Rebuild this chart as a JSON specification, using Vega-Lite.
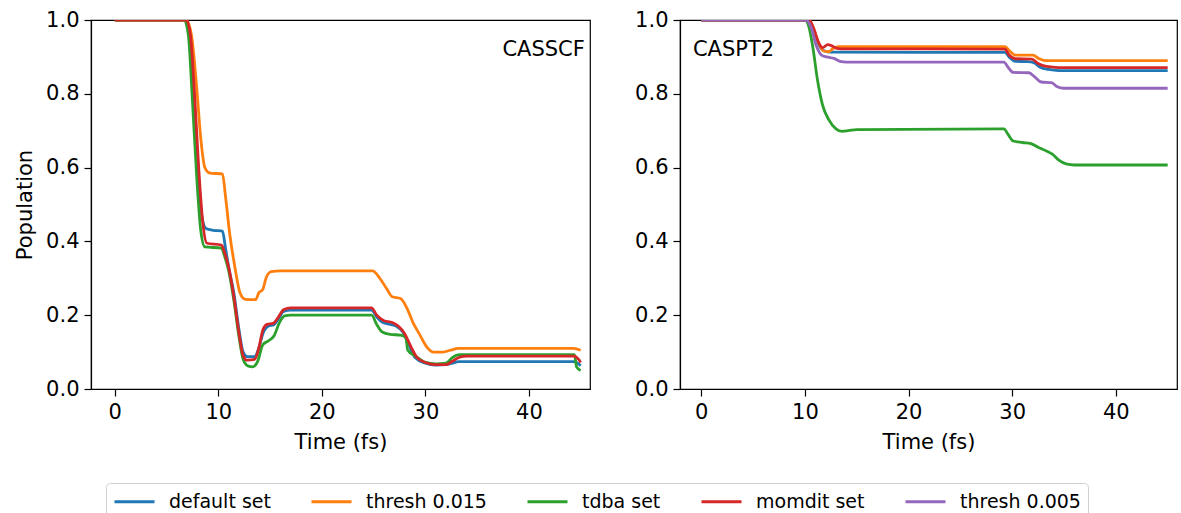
{
  "$schema": "https://vega.github.io/schema/vega-lite/v6.json",
  "padding": {"left": 14, "top": 8, "right": 0, "bottom": 0},
  "background": "white",
  "datasets": {
    "pop": [
      {"m": "CASSCF", "s": "default set", "t": 0, "p": 1.0},
      {"m": "CASSCF", "s": "default set", "t": 6.8, "p": 1.0},
      {"m": "CASSCF", "s": "default set", "t": 7.2, "p": 0.97},
      {"m": "CASSCF", "s": "default set", "t": 7.6, "p": 0.82},
      {"m": "CASSCF", "s": "default set", "t": 8.0, "p": 0.62},
      {"m": "CASSCF", "s": "default set", "t": 8.4, "p": 0.47},
      {"m": "CASSCF", "s": "default set", "t": 8.8, "p": 0.435},
      {"m": "CASSCF", "s": "default set", "t": 9.5, "p": 0.43},
      {"m": "CASSCF", "s": "default set", "t": 10.4, "p": 0.428},
      {"m": "CASSCF", "s": "default set", "t": 10.7, "p": 0.38},
      {"m": "CASSCF", "s": "default set", "t": 11.0, "p": 0.33},
      {"m": "CASSCF", "s": "default set", "t": 11.5, "p": 0.26},
      {"m": "CASSCF", "s": "default set", "t": 12.0, "p": 0.16},
      {"m": "CASSCF", "s": "default set", "t": 12.4, "p": 0.1},
      {"m": "CASSCF", "s": "default set", "t": 12.8, "p": 0.088},
      {"m": "CASSCF", "s": "default set", "t": 13.5, "p": 0.088},
      {"m": "CASSCF", "s": "default set", "t": 13.9, "p": 0.11},
      {"m": "CASSCF", "s": "default set", "t": 14.3, "p": 0.15},
      {"m": "CASSCF", "s": "default set", "t": 14.8, "p": 0.17},
      {"m": "CASSCF", "s": "default set", "t": 15.4, "p": 0.175},
      {"m": "CASSCF", "s": "default set", "t": 15.8, "p": 0.19},
      {"m": "CASSCF", "s": "default set", "t": 16.3, "p": 0.21},
      {"m": "CASSCF", "s": "default set", "t": 17.0, "p": 0.214},
      {"m": "CASSCF", "s": "default set", "t": 24.8, "p": 0.214},
      {"m": "CASSCF", "s": "default set", "t": 25.3, "p": 0.195},
      {"m": "CASSCF", "s": "default set", "t": 25.9, "p": 0.18},
      {"m": "CASSCF", "s": "default set", "t": 26.6, "p": 0.175},
      {"m": "CASSCF", "s": "default set", "t": 27.2, "p": 0.17},
      {"m": "CASSCF", "s": "default set", "t": 27.8, "p": 0.155},
      {"m": "CASSCF", "s": "default set", "t": 28.4, "p": 0.12},
      {"m": "CASSCF", "s": "default set", "t": 29.0, "p": 0.085},
      {"m": "CASSCF", "s": "default set", "t": 30.0, "p": 0.07},
      {"m": "CASSCF", "s": "default set", "t": 31.0, "p": 0.065},
      {"m": "CASSCF", "s": "default set", "t": 32.0, "p": 0.066},
      {"m": "CASSCF", "s": "default set", "t": 32.6, "p": 0.07},
      {"m": "CASSCF", "s": "default set", "t": 33.2, "p": 0.074},
      {"m": "CASSCF", "s": "default set", "t": 44.4, "p": 0.074},
      {"m": "CASSCF", "s": "default set", "t": 44.7, "p": 0.07},
      {"m": "CASSCF", "s": "default set", "t": 45.0, "p": 0.063},

      {"m": "CASSCF", "s": "thresh 0.015", "t": 0, "p": 1.0},
      {"m": "CASSCF", "s": "thresh 0.015", "t": 6.9, "p": 1.0},
      {"m": "CASSCF", "s": "thresh 0.015", "t": 7.4, "p": 0.96},
      {"m": "CASSCF", "s": "thresh 0.015", "t": 7.9, "p": 0.82},
      {"m": "CASSCF", "s": "thresh 0.015", "t": 8.3, "p": 0.68},
      {"m": "CASSCF", "s": "thresh 0.015", "t": 8.7, "p": 0.6},
      {"m": "CASSCF", "s": "thresh 0.015", "t": 9.2, "p": 0.585},
      {"m": "CASSCF", "s": "thresh 0.015", "t": 10.4, "p": 0.583},
      {"m": "CASSCF", "s": "thresh 0.015", "t": 10.7, "p": 0.52},
      {"m": "CASSCF", "s": "thresh 0.015", "t": 11.1, "p": 0.42},
      {"m": "CASSCF", "s": "thresh 0.015", "t": 11.6, "p": 0.33},
      {"m": "CASSCF", "s": "thresh 0.015", "t": 12.1, "p": 0.26},
      {"m": "CASSCF", "s": "thresh 0.015", "t": 12.6, "p": 0.243},
      {"m": "CASSCF", "s": "thresh 0.015", "t": 13.6, "p": 0.242},
      {"m": "CASSCF", "s": "thresh 0.015", "t": 13.9, "p": 0.26},
      {"m": "CASSCF", "s": "thresh 0.015", "t": 14.3, "p": 0.27},
      {"m": "CASSCF", "s": "thresh 0.015", "t": 14.6, "p": 0.3},
      {"m": "CASSCF", "s": "thresh 0.015", "t": 15.1, "p": 0.318},
      {"m": "CASSCF", "s": "thresh 0.015", "t": 16.0, "p": 0.32},
      {"m": "CASSCF", "s": "thresh 0.015", "t": 24.9, "p": 0.32},
      {"m": "CASSCF", "s": "thresh 0.015", "t": 25.6, "p": 0.3},
      {"m": "CASSCF", "s": "thresh 0.015", "t": 26.3, "p": 0.27},
      {"m": "CASSCF", "s": "thresh 0.015", "t": 26.8, "p": 0.25},
      {"m": "CASSCF", "s": "thresh 0.015", "t": 27.6, "p": 0.245},
      {"m": "CASSCF", "s": "thresh 0.015", "t": 28.2, "p": 0.22},
      {"m": "CASSCF", "s": "thresh 0.015", "t": 28.8, "p": 0.18},
      {"m": "CASSCF", "s": "thresh 0.015", "t": 29.4, "p": 0.15},
      {"m": "CASSCF", "s": "thresh 0.015", "t": 30.1, "p": 0.115},
      {"m": "CASSCF", "s": "thresh 0.015", "t": 30.8, "p": 0.1},
      {"m": "CASSCF", "s": "thresh 0.015", "t": 31.7, "p": 0.1},
      {"m": "CASSCF", "s": "thresh 0.015", "t": 32.4, "p": 0.105},
      {"m": "CASSCF", "s": "thresh 0.015", "t": 33.2, "p": 0.11},
      {"m": "CASSCF", "s": "thresh 0.015", "t": 44.3, "p": 0.11},
      {"m": "CASSCF", "s": "thresh 0.015", "t": 45.0, "p": 0.105},

      {"m": "CASSCF", "s": "tdba set", "t": 0, "p": 1.0},
      {"m": "CASSCF", "s": "tdba set", "t": 6.7, "p": 1.0},
      {"m": "CASSCF", "s": "tdba set", "t": 7.1, "p": 0.96},
      {"m": "CASSCF", "s": "tdba set", "t": 7.5, "p": 0.78},
      {"m": "CASSCF", "s": "tdba set", "t": 7.9, "p": 0.58},
      {"m": "CASSCF", "s": "tdba set", "t": 8.3, "p": 0.43},
      {"m": "CASSCF", "s": "tdba set", "t": 8.7, "p": 0.385},
      {"m": "CASSCF", "s": "tdba set", "t": 10.3, "p": 0.382},
      {"m": "CASSCF", "s": "tdba set", "t": 10.6, "p": 0.36},
      {"m": "CASSCF", "s": "tdba set", "t": 11.0, "p": 0.32},
      {"m": "CASSCF", "s": "tdba set", "t": 11.5, "p": 0.24},
      {"m": "CASSCF", "s": "tdba set", "t": 12.0, "p": 0.14},
      {"m": "CASSCF", "s": "tdba set", "t": 12.4, "p": 0.08},
      {"m": "CASSCF", "s": "tdba set", "t": 12.9, "p": 0.062},
      {"m": "CASSCF", "s": "tdba set", "t": 13.3, "p": 0.06},
      {"m": "CASSCF", "s": "tdba set", "t": 13.8, "p": 0.075},
      {"m": "CASSCF", "s": "tdba set", "t": 14.3, "p": 0.12},
      {"m": "CASSCF", "s": "tdba set", "t": 14.8, "p": 0.13},
      {"m": "CASSCF", "s": "tdba set", "t": 15.4, "p": 0.145},
      {"m": "CASSCF", "s": "tdba set", "t": 15.9, "p": 0.18},
      {"m": "CASSCF", "s": "tdba set", "t": 16.4, "p": 0.198},
      {"m": "CASSCF", "s": "tdba set", "t": 17.0, "p": 0.2},
      {"m": "CASSCF", "s": "tdba set", "t": 24.8, "p": 0.2},
      {"m": "CASSCF", "s": "tdba set", "t": 25.3, "p": 0.175},
      {"m": "CASSCF", "s": "tdba set", "t": 25.8, "p": 0.155},
      {"m": "CASSCF", "s": "tdba set", "t": 26.6, "p": 0.148},
      {"m": "CASSCF", "s": "tdba set", "t": 27.6, "p": 0.146},
      {"m": "CASSCF", "s": "tdba set", "t": 28.1, "p": 0.14},
      {"m": "CASSCF", "s": "tdba set", "t": 28.3, "p": 0.105},
      {"m": "CASSCF", "s": "tdba set", "t": 29.0, "p": 0.09},
      {"m": "CASSCF", "s": "tdba set", "t": 30.0, "p": 0.072},
      {"m": "CASSCF", "s": "tdba set", "t": 31.0, "p": 0.068},
      {"m": "CASSCF", "s": "tdba set", "t": 32.0, "p": 0.07},
      {"m": "CASSCF", "s": "tdba set", "t": 32.6, "p": 0.085},
      {"m": "CASSCF", "s": "tdba set", "t": 33.3, "p": 0.093},
      {"m": "CASSCF", "s": "tdba set", "t": 44.4, "p": 0.093},
      {"m": "CASSCF", "s": "tdba set", "t": 44.6, "p": 0.06},
      {"m": "CASSCF", "s": "tdba set", "t": 45.0, "p": 0.05},

      {"m": "CASSCF", "s": "momdit set", "t": 0, "p": 1.0},
      {"m": "CASSCF", "s": "momdit set", "t": 6.9, "p": 1.0},
      {"m": "CASSCF", "s": "momdit set", "t": 7.3, "p": 0.96},
      {"m": "CASSCF", "s": "momdit set", "t": 7.7, "p": 0.8},
      {"m": "CASSCF", "s": "momdit set", "t": 8.1, "p": 0.6},
      {"m": "CASSCF", "s": "momdit set", "t": 8.5, "p": 0.45},
      {"m": "CASSCF", "s": "momdit set", "t": 8.9, "p": 0.395},
      {"m": "CASSCF", "s": "momdit set", "t": 10.3, "p": 0.39},
      {"m": "CASSCF", "s": "momdit set", "t": 10.6, "p": 0.37},
      {"m": "CASSCF", "s": "momdit set", "t": 11.0, "p": 0.33},
      {"m": "CASSCF", "s": "momdit set", "t": 11.5, "p": 0.25},
      {"m": "CASSCF", "s": "momdit set", "t": 12.0, "p": 0.15},
      {"m": "CASSCF", "s": "momdit set", "t": 12.4, "p": 0.09},
      {"m": "CASSCF", "s": "momdit set", "t": 12.8, "p": 0.078},
      {"m": "CASSCF", "s": "momdit set", "t": 13.5, "p": 0.08},
      {"m": "CASSCF", "s": "momdit set", "t": 13.9, "p": 0.11},
      {"m": "CASSCF", "s": "momdit set", "t": 14.3, "p": 0.16},
      {"m": "CASSCF", "s": "momdit set", "t": 14.7, "p": 0.175},
      {"m": "CASSCF", "s": "momdit set", "t": 15.3, "p": 0.178},
      {"m": "CASSCF", "s": "momdit set", "t": 15.8, "p": 0.195},
      {"m": "CASSCF", "s": "momdit set", "t": 16.3, "p": 0.215},
      {"m": "CASSCF", "s": "momdit set", "t": 17.0, "p": 0.22},
      {"m": "CASSCF", "s": "momdit set", "t": 24.8, "p": 0.22},
      {"m": "CASSCF", "s": "momdit set", "t": 25.3, "p": 0.2},
      {"m": "CASSCF", "s": "momdit set", "t": 26.0, "p": 0.185},
      {"m": "CASSCF", "s": "momdit set", "t": 26.8, "p": 0.18},
      {"m": "CASSCF", "s": "momdit set", "t": 27.4, "p": 0.17},
      {"m": "CASSCF", "s": "momdit set", "t": 28.0, "p": 0.15},
      {"m": "CASSCF", "s": "momdit set", "t": 28.6, "p": 0.115},
      {"m": "CASSCF", "s": "momdit set", "t": 29.2, "p": 0.085},
      {"m": "CASSCF", "s": "momdit set", "t": 30.0, "p": 0.072},
      {"m": "CASSCF", "s": "momdit set", "t": 31.0, "p": 0.066},
      {"m": "CASSCF", "s": "momdit set", "t": 32.0, "p": 0.066},
      {"m": "CASSCF", "s": "momdit set", "t": 32.6, "p": 0.075},
      {"m": "CASSCF", "s": "momdit set", "t": 33.3, "p": 0.086},
      {"m": "CASSCF", "s": "momdit set", "t": 34.0, "p": 0.089},
      {"m": "CASSCF", "s": "momdit set", "t": 44.4, "p": 0.089},
      {"m": "CASSCF", "s": "momdit set", "t": 44.8, "p": 0.08},
      {"m": "CASSCF", "s": "momdit set", "t": 45.0, "p": 0.072},

      {"m": "CASPT2", "s": "default set", "t": 0, "p": 1.0},
      {"m": "CASPT2", "s": "default set", "t": 10.2, "p": 1.0},
      {"m": "CASPT2", "s": "default set", "t": 10.6, "p": 0.99},
      {"m": "CASPT2", "s": "default set", "t": 11.0, "p": 0.96},
      {"m": "CASPT2", "s": "default set", "t": 11.4, "p": 0.93},
      {"m": "CASPT2", "s": "default set", "t": 11.9, "p": 0.916},
      {"m": "CASPT2", "s": "default set", "t": 12.5, "p": 0.913},
      {"m": "CASPT2", "s": "default set", "t": 29.3, "p": 0.912},
      {"m": "CASPT2", "s": "default set", "t": 29.7, "p": 0.9},
      {"m": "CASPT2", "s": "default set", "t": 30.3, "p": 0.888},
      {"m": "CASPT2", "s": "default set", "t": 31.5, "p": 0.887},
      {"m": "CASPT2", "s": "default set", "t": 32.1, "p": 0.884},
      {"m": "CASPT2", "s": "default set", "t": 32.7, "p": 0.872},
      {"m": "CASPT2", "s": "default set", "t": 33.5, "p": 0.866},
      {"m": "CASPT2", "s": "default set", "t": 34.5, "p": 0.863},
      {"m": "CASPT2", "s": "default set", "t": 45.0, "p": 0.863},

      {"m": "CASPT2", "s": "thresh 0.015", "t": 0, "p": 1.0},
      {"m": "CASPT2", "s": "thresh 0.015", "t": 10.4, "p": 1.0},
      {"m": "CASPT2", "s": "thresh 0.015", "t": 10.8, "p": 0.98},
      {"m": "CASPT2", "s": "thresh 0.015", "t": 11.3, "p": 0.94},
      {"m": "CASPT2", "s": "thresh 0.015", "t": 11.8, "p": 0.916},
      {"m": "CASPT2", "s": "thresh 0.015", "t": 12.3, "p": 0.914},
      {"m": "CASPT2", "s": "thresh 0.015", "t": 12.7, "p": 0.922},
      {"m": "CASPT2", "s": "thresh 0.015", "t": 13.2, "p": 0.928},
      {"m": "CASPT2", "s": "thresh 0.015", "t": 29.3, "p": 0.928},
      {"m": "CASPT2", "s": "thresh 0.015", "t": 29.8, "p": 0.915},
      {"m": "CASPT2", "s": "thresh 0.015", "t": 30.3, "p": 0.905},
      {"m": "CASPT2", "s": "thresh 0.015", "t": 32.0, "p": 0.905},
      {"m": "CASPT2", "s": "thresh 0.015", "t": 32.6, "p": 0.895},
      {"m": "CASPT2", "s": "thresh 0.015", "t": 33.2, "p": 0.89},
      {"m": "CASPT2", "s": "thresh 0.015", "t": 45.0, "p": 0.89},

      {"m": "CASPT2", "s": "tdba set", "t": 0, "p": 1.0},
      {"m": "CASPT2", "s": "tdba set", "t": 10.0, "p": 1.0},
      {"m": "CASPT2", "s": "tdba set", "t": 10.4, "p": 0.98},
      {"m": "CASPT2", "s": "tdba set", "t": 10.8, "p": 0.92},
      {"m": "CASPT2", "s": "tdba set", "t": 11.2, "p": 0.84},
      {"m": "CASPT2", "s": "tdba set", "t": 11.7, "p": 0.77},
      {"m": "CASPT2", "s": "tdba set", "t": 12.3, "p": 0.73},
      {"m": "CASPT2", "s": "tdba set", "t": 13.0, "p": 0.705},
      {"m": "CASPT2", "s": "tdba set", "t": 13.6, "p": 0.698},
      {"m": "CASPT2", "s": "tdba set", "t": 14.2, "p": 0.7},
      {"m": "CASPT2", "s": "tdba set", "t": 15.0, "p": 0.703},
      {"m": "CASPT2", "s": "tdba set", "t": 29.2, "p": 0.705},
      {"m": "CASPT2", "s": "tdba set", "t": 29.6, "p": 0.69},
      {"m": "CASPT2", "s": "tdba set", "t": 30.1, "p": 0.672},
      {"m": "CASPT2", "s": "tdba set", "t": 31.0, "p": 0.668},
      {"m": "CASPT2", "s": "tdba set", "t": 31.8, "p": 0.665},
      {"m": "CASPT2", "s": "tdba set", "t": 32.5, "p": 0.655},
      {"m": "CASPT2", "s": "tdba set", "t": 33.3, "p": 0.645},
      {"m": "CASPT2", "s": "tdba set", "t": 33.9, "p": 0.636},
      {"m": "CASPT2", "s": "tdba set", "t": 34.5, "p": 0.62},
      {"m": "CASPT2", "s": "tdba set", "t": 35.2, "p": 0.61},
      {"m": "CASPT2", "s": "tdba set", "t": 36.0, "p": 0.607},
      {"m": "CASPT2", "s": "tdba set", "t": 45.0, "p": 0.607},

      {"m": "CASPT2", "s": "momdit set", "t": 0, "p": 1.0},
      {"m": "CASPT2", "s": "momdit set", "t": 10.4, "p": 1.0},
      {"m": "CASPT2", "s": "momdit set", "t": 10.8, "p": 0.98},
      {"m": "CASPT2", "s": "momdit set", "t": 11.3, "p": 0.94},
      {"m": "CASPT2", "s": "momdit set", "t": 11.7, "p": 0.925},
      {"m": "CASPT2", "s": "momdit set", "t": 12.2, "p": 0.933},
      {"m": "CASPT2", "s": "momdit set", "t": 12.6, "p": 0.93},
      {"m": "CASPT2", "s": "momdit set", "t": 13.0, "p": 0.924},
      {"m": "CASPT2", "s": "momdit set", "t": 13.5, "p": 0.922},
      {"m": "CASPT2", "s": "momdit set", "t": 29.3, "p": 0.921},
      {"m": "CASPT2", "s": "momdit set", "t": 29.7, "p": 0.905},
      {"m": "CASPT2", "s": "momdit set", "t": 30.3, "p": 0.895},
      {"m": "CASPT2", "s": "momdit set", "t": 31.9, "p": 0.894},
      {"m": "CASPT2", "s": "momdit set", "t": 32.5, "p": 0.882},
      {"m": "CASPT2", "s": "momdit set", "t": 33.3, "p": 0.874},
      {"m": "CASPT2", "s": "momdit set", "t": 34.5, "p": 0.871},
      {"m": "CASPT2", "s": "momdit set", "t": 45.0, "p": 0.871},

      {"m": "CASPT2", "s": "thresh 0.005", "t": 0, "p": 1.0},
      {"m": "CASPT2", "s": "thresh 0.005", "t": 10.1, "p": 1.0},
      {"m": "CASPT2", "s": "thresh 0.005", "t": 10.6, "p": 0.98},
      {"m": "CASPT2", "s": "thresh 0.005", "t": 11.1, "p": 0.93},
      {"m": "CASPT2", "s": "thresh 0.005", "t": 11.6, "p": 0.905},
      {"m": "CASPT2", "s": "thresh 0.005", "t": 12.1, "p": 0.9},
      {"m": "CASPT2", "s": "thresh 0.005", "t": 12.8, "p": 0.896},
      {"m": "CASPT2", "s": "thresh 0.005", "t": 13.4, "p": 0.888},
      {"m": "CASPT2", "s": "thresh 0.005", "t": 14.0, "p": 0.886},
      {"m": "CASPT2", "s": "thresh 0.005", "t": 29.2, "p": 0.886},
      {"m": "CASPT2", "s": "thresh 0.005", "t": 29.6, "p": 0.872},
      {"m": "CASPT2", "s": "thresh 0.005", "t": 30.1, "p": 0.858},
      {"m": "CASPT2", "s": "thresh 0.005", "t": 31.6, "p": 0.857},
      {"m": "CASPT2", "s": "thresh 0.005", "t": 32.2, "p": 0.845},
      {"m": "CASPT2", "s": "thresh 0.005", "t": 32.8, "p": 0.832},
      {"m": "CASPT2", "s": "thresh 0.005", "t": 33.8, "p": 0.83},
      {"m": "CASPT2", "s": "thresh 0.005", "t": 34.3, "p": 0.82},
      {"m": "CASPT2", "s": "thresh 0.005", "t": 35.0, "p": 0.815},
      {"m": "CASPT2", "s": "thresh 0.005", "t": 45.0, "p": 0.815}
    ],
    "labels": [
      {"m": "CASSCF", "t": 45.4, "p": 0.92, "name": "CASSCF"},
      {"m": "CASPT2", "t": -0.8, "p": 0.92, "name": "CASPT2"}
    ]
  },
  "bounds": "flush",
  "spacing": 90,
  "resolve": {"scale": {"color": "shared"}, "legend": {"color": "shared"}},
  "hconcat": [
    {
      "width": 499,
      "height": 369,
      "layer": [
        {
          "data": {"name": "pop"},
          "transform": [{"filter": "datum.m === 'CASSCF'"}],
          "mark": {"type": "line", "strokeWidth": 2.8, "interpolate": "monotone", "clip": true},
          "encoding": {
            "x": {"field": "t", "type": "quantitative", "scale": {"domain": [-2.3, 45.9], "nice": false, "zero": false},
                  "axis": {"values": [0, 10, 20, 30, 40], "title": "Time (fs)"}},
            "y": {"field": "p", "type": "quantitative", "scale": {"domain": [0, 1], "nice": false},
                  "axis": {"values": [0, 0.2, 0.4, 0.6, 0.8, 1.0], "format": ".1f", "title": "Population"}},
            "color": {"field": "s", "type": "nominal",
                      "scale": {"domain": ["default set", "thresh 0.015", "tdba set", "momdit set", "thresh 0.005"],
                                "range": ["#1f77b4", "#ff7f0e", "#2ca02c", "#d62728", "#9467bd"]},
                      "sort": ["default set", "thresh 0.015", "tdba set", "momdit set", "thresh 0.005"]}
          }
        },
        {
          "data": {"name": "labels"},
          "transform": [{"filter": "datum.m === 'CASSCF'"}],
          "mark": {"type": "text", "align": "right", "baseline": "middle", "fontSize": 21, "font": "DejaVu Sans", "color": "#000"},
          "encoding": {
            "x": {"field": "t", "type": "quantitative"},
            "y": {"field": "p", "type": "quantitative"},
            "text": {"field": "name"}
          }
        }
      ]
    },
    {
      "width": 497,
      "height": 369,
      "layer": [
        {
          "data": {"name": "pop"},
          "transform": [{"filter": "datum.m === 'CASPT2'"}],
          "mark": {"type": "line", "strokeWidth": 2.8, "interpolate": "monotone", "clip": true},
          "encoding": {
            "x": {"field": "t", "type": "quantitative", "scale": {"domain": [-2.05, 45.9], "nice": false, "zero": false},
                  "axis": {"values": [0, 10, 20, 30, 40], "title": "Time (fs)"}},
            "y": {"field": "p", "type": "quantitative", "scale": {"domain": [0, 1], "nice": false},
                  "axis": {"values": [0, 0.2, 0.4, 0.6, 0.8, 1.0], "format": ".1f", "title": null}},
            "color": {"field": "s", "type": "nominal",
                      "scale": {"domain": ["default set", "thresh 0.015", "tdba set", "momdit set", "thresh 0.005"],
                                "range": ["#1f77b4", "#ff7f0e", "#2ca02c", "#d62728", "#9467bd"]},
                      "sort": ["default set", "thresh 0.015", "tdba set", "momdit set", "thresh 0.005"]}
          }
        },
        {
          "data": {"name": "labels"},
          "transform": [{"filter": "datum.m === 'CASPT2'"}],
          "mark": {"type": "text", "align": "left", "baseline": "middle", "fontSize": 21, "font": "DejaVu Sans", "color": "#000"},
          "encoding": {
            "x": {"field": "t", "type": "quantitative"},
            "y": {"field": "p", "type": "quantitative"},
            "text": {"field": "name"}
          }
        }
      ]
    }
  ],
  "config": {
    "font": "DejaVu Sans",
    "view": {"stroke": "#000", "strokeWidth": 1.2},
    "axis": {
      "grid": false,
      "domainColor": "#000",
      "domainWidth": 1.2,
      "tickColor": "#000",
      "tickWidth": 1.2,
      "tickSize": 7,
      "labelFont": "DejaVu Sans",
      "labelFontSize": 21,
      "labelColor": "#000",
      "labelPadding": 5,
      "titleFont": "DejaVu Sans",
      "titleFontSize": 21,
      "titleFontWeight": "normal",
      "titleColor": "#000"
    },
    "axisX": {"titlePadding": 9, "labelFlush": false},
    "axisY": {"titlePadding": 10, "labelFlush": false},
    "legend": {
      "orient": "none",
      "legendX": 15,
      "legendY": 463,
      "direction": "horizontal",
      "title": null,
      "symbolType": "M-1,0H3",
      "symbolSize": 400,
      "symbolStrokeWidth": 2.8,
      "labelFont": "DejaVu Sans",
      "labelFontSize": 19,
      "labelColor": "#000",
      "labelOffset": 33,
      "columnPadding": 34,
      "padding": 7,
      "strokeColor": "#d0d0d0",
      "fillColor": "#ffffff",
      "cornerRadius": 4
    }
  }
}
